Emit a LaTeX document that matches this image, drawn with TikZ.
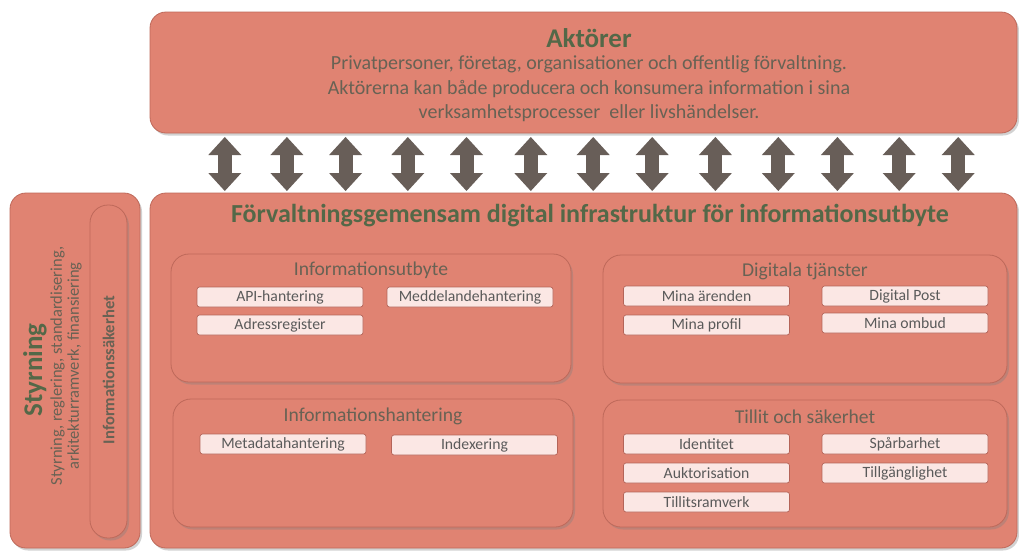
\documentclass[tikz,border=0pt]{standalone}
\usepackage{fontspec}
\setmainfont{Carlito}
\usetikzlibrary{arrows.meta,shadows}
\definecolor{boxfill}{RGB}{224,131,114}
\definecolor{boxborder}{RGB}{190,105,90}
\definecolor{itemfill}{RGB}{251,231,228}
\definecolor{itemborder}{RGB}{180,100,88}
\definecolor{itemtext}{RGB}{90,90,90}
\definecolor{titlegreen}{RGB}{84,104,72}
\definecolor{subtext}{RGB}{104,98,84}
\definecolor{arrowgray}{RGB}{104,94,88}
\newcommand{\fsz}[1]{\fontsize{#1}{#1}\selectfont}
\tikzset{
  bigbox/.style={draw=boxborder, fill=boxfill, line width=0.8pt, rounded corners=16pt,
    drop shadow={opacity=0.35, shadow xshift=2pt, shadow yshift=-2.5pt}, inner sep=0pt},
  subbox/.style={draw=boxborder, fill=boxfill, line width=0.8pt, rounded corners=18pt,
    drop shadow={opacity=0.35, shadow xshift=2pt, shadow yshift=-2.5pt}, inner sep=0pt,
    minimum height=128pt},
  item/.style={draw=itemborder, fill=itemfill, line width=0.7pt, rounded corners=2.5pt,
    minimum width=166pt, minimum height=20pt, inner sep=0pt, text=itemtext, font=\fsz{15.7}},
  bigtitle/.style={text=titlegreen, font=\bfseries\fsz{27}, inner sep=0pt},
  maintitle/.style={text=titlegreen, font=\bfseries\fsz{26}, inner sep=0pt},
  subtitle/.style={text=subtext, font=\fsz{19.6}, inner sep=0pt},
  bodytext/.style={text=subtext, font=\fsz{20}, inner sep=0pt},
  dblarr/.style={draw=arrowgray, line width=14pt,
    {Triangle[width=33pt,length=18pt,line width=0pt]}-{Triangle[width=33pt,length=18pt,line width=0pt]}},
}
\begin{document}
\begin{tikzpicture}[x=1pt,y=-1pt]
\useasboundingbox (0,0) rectangle (1019,550);
\fill[white] (0,0) rectangle (1019,550);

% Aktörer
\node[bigbox, minimum width=867pt, minimum height=121pt] (akt) at (583.5,72.5) {};
\node[bigtitle] (akttitle) at (589,38) {Aktörer};
\node[bodytext] (aktl1) at (589,64) {Privatpersoner, företag, organisationer och offentlig förvaltning.};
\node[bodytext] (aktl2) at (589,89) {Aktörerna kan både producera och konsumera information i sina};
\node[bodytext] (aktl3) at (589,113) {verksamhetsprocesser\ \ eller livshändelser.};

% Main box
\node[bigbox, minimum width=867pt, minimum height=355pt] (main) at (583.5,370.5) {};
\node[maintitle] (maintitle) at (590,216) {Förvaltningsgemensam digital infrastruktur för informationsutbyte};

% Arrows between Aktörer and main box
\foreach \i/\x in {1/224.8,2/286.9,3/345.6,4/407.8,5/466.5,6/530.8,7/593.2,8/652.2,9/715.4,10/778.3,11/837.4,12/899.2,13/958.2}{
  \coordinate (t\i) at (\x,137);
  \coordinate (b\i) at (\x,191);
  \draw[dblarr] (t\i) -- (b\i);
}

% Styrning
\node[bigbox, minimum width=130pt, minimum height=355pt] (styr) at (75,370.5) {};
\node[subbox, minimum width=37pt, minimum height=333pt] (infosak) at (108.5,371.5) {};
\node[bigtitle, font=\bfseries\fsz{27}, rotate=90] (styrtitle) at (35,370) {Styrning};
\node[bodytext, font=\fsz{16.5}, rotate=90] (styrl1) at (57.5,366) {Styrning, reglering, standardisering,};
\node[bodytext, font=\fsz{16.5}, rotate=90] (styrl2) at (74.5,366) {arkitekturramverk, finansiering};
\node[text=subtext, font=\bfseries\fsz{16.6}, rotate=90, inner sep=0pt] (infosaktitle) at (108.5,370) {Informationssäkerhet};

% Informationsutbyte
\node[subbox, minimum width=400pt] (iu) at (371,318) {};
\node[subtitle] (iutitle) at (371,270) {Informationsutbyte};
\node[item] (api) at (280,297) {API-hantering};
\node[item] (medd) at (470,297) {Meddelandehantering};
\node[item] (adr) at (280,325) {Adressregister};

% Digitala tjänster
\node[subbox, minimum width=404pt] (dt) at (805,319) {};
\node[subtitle] (dttitle) at (805,271) {Digitala tjänster};
\node[item] (arenden) at (706.5,296) {Mina ärenden};
\node[item] (dpost) at (905,296) {Digital Post};
\node[item] (profil) at (706.5,325) {Mina profil};
\node[item] (ombud) at (905,323) {Mina ombud};

% Informationshantering
\node[subbox, minimum width=400pt] (ih) at (373,463) {};
\node[subtitle] (ihtitle) at (373,416) {Informationshantering};
\node[item] (meta) at (283,444) {Metadatahantering};
\node[item] (index) at (474.5,445) {Indexering};

% Tillit och säkerhet
\node[subbox, minimum width=404pt, minimum height=127pt] (ts) at (805,463.5) {};
\node[subtitle] (tstitle) at (805,417) {Tillit och säkerhet};
\node[item] (ident) at (706.5,444) {Identitet};
\node[item] (spar) at (905,444) {Spårbarhet};
\node[item] (auk) at (706.5,473) {Auktorisation};
\node[item] (tillg) at (905,473) {Tillgänglighet};
\node[item] (ramv) at (706.5,502) {Tillitsramverk};
\end{tikzpicture}
\end{document}
